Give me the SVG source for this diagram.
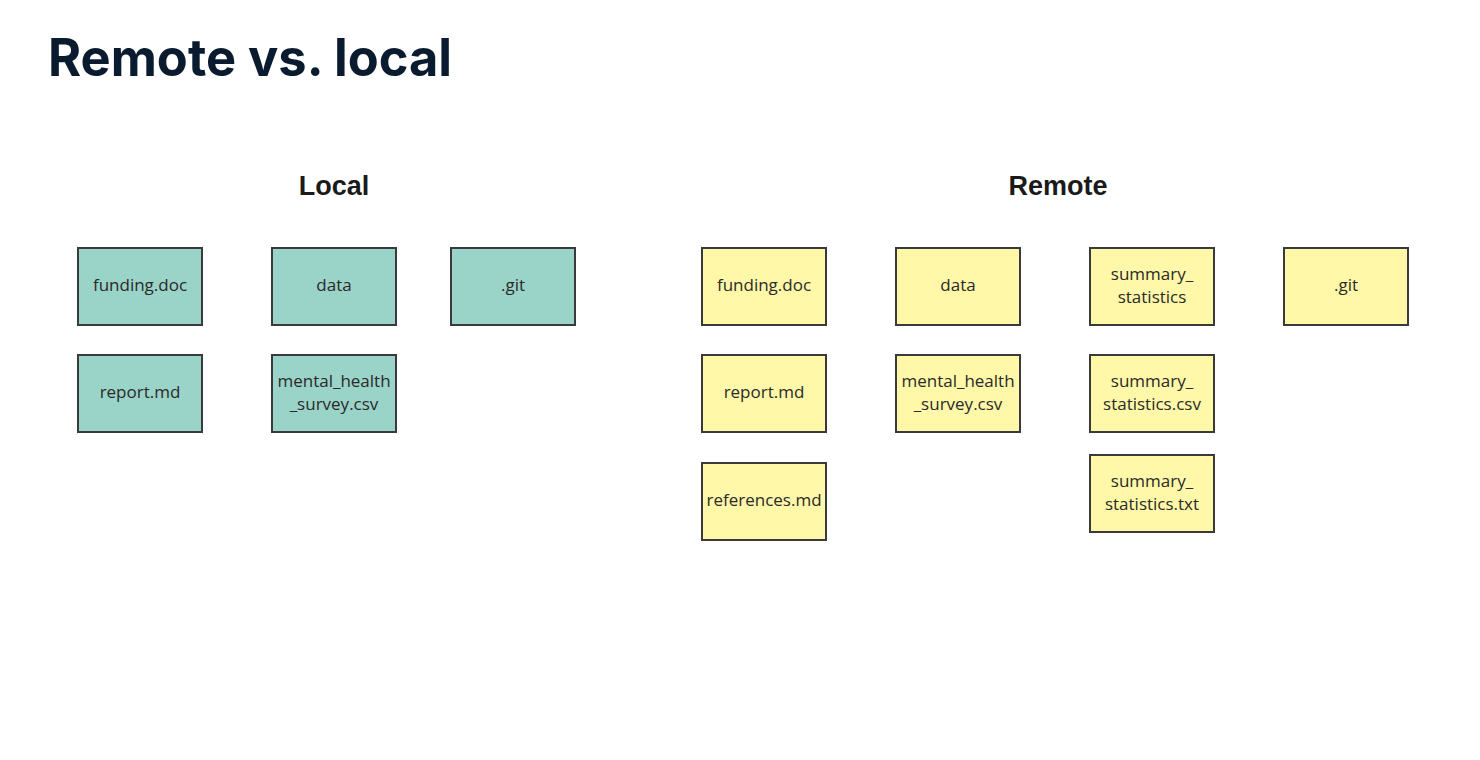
<svg xmlns="http://www.w3.org/2000/svg" width="1480" height="760" viewBox="0 0 1480 760">
<style>
.title{font-family:Inter,"Liberation Sans",sans-serif;font-weight:700;font-size:52px;fill:#0b1b2f}
.head{font-family:"Liberation Sans",Arial,sans-serif;font-weight:700;font-size:27px;fill:#1a1a1a;text-anchor:middle}
.box rect{stroke:#3a3a3a;stroke-width:2}
.loc rect{fill:#9ad3c7}
.rem rect{fill:#fff8a8}
.box text{font-family:"Open Sans","Noto Sans",sans-serif;font-size:17px;fill:#2a2a2a;text-anchor:middle}
</style>
<rect width="1480" height="760" fill="#ffffff"/>
<text class="title" x="48" y="76" textLength="404" lengthAdjust="spacingAndGlyphs">Remote vs. local</text>
<text class="head" x="334" y="195">Local</text>
<text class="head" x="1058" y="195">Remote</text>
<g id="connectors"/>
<g id="l-funding" class="box loc"><rect x="78" y="248" width="124" height="77"/><text x="140" y="291">funding.doc</text></g>
<g id="l-data" class="box loc"><rect x="272" y="248" width="124" height="77"/><text x="334" y="291">data</text></g>
<g id="l-git" class="box loc"><rect x="451" y="248" width="124" height="77"/><text x="513" y="291">.git</text></g>
<g id="l-report" class="box loc"><rect x="78" y="355" width="124" height="77"/><text x="140" y="398">report.md</text></g>
<g id="l-mh" class="box loc"><rect x="272" y="355" width="124" height="77"/><text x="334" y="387">mental_health</text><text x="334" y="410">_survey.csv</text></g>
<g id="r-funding" class="box rem"><rect x="702" y="248" width="124" height="77"/><text x="764" y="291">funding.doc</text></g>
<g id="r-data" class="box rem"><rect x="896" y="248" width="124" height="77"/><text x="958" y="291">data</text></g>
<g id="r-ss" class="box rem"><rect x="1090" y="248" width="124" height="77"/><text x="1152" y="280">summary_</text><text x="1152" y="303">statistics</text></g>
<g id="r-git" class="box rem"><rect x="1284" y="248" width="124" height="77"/><text x="1346" y="291">.git</text></g>
<g id="r-report" class="box rem"><rect x="702" y="355" width="124" height="77"/><text x="764" y="398">report.md</text></g>
<g id="r-mh" class="box rem"><rect x="896" y="355" width="124" height="77"/><text x="958" y="387">mental_health</text><text x="958" y="410">_survey.csv</text></g>
<g id="r-sscsv" class="box rem"><rect x="1090" y="355" width="124" height="77"/><text x="1152" y="387">summary_</text><text x="1152" y="410">statistics.csv</text></g>
<g id="r-refs" class="box rem"><rect x="702" y="463" width="124" height="77"/><text x="764" y="506">references.md</text></g>
<g id="r-sstxt" class="box rem"><rect x="1090" y="455" width="124" height="77"/><text x="1152" y="487">summary_</text><text x="1152" y="510">statistics.txt</text></g>
</svg>
